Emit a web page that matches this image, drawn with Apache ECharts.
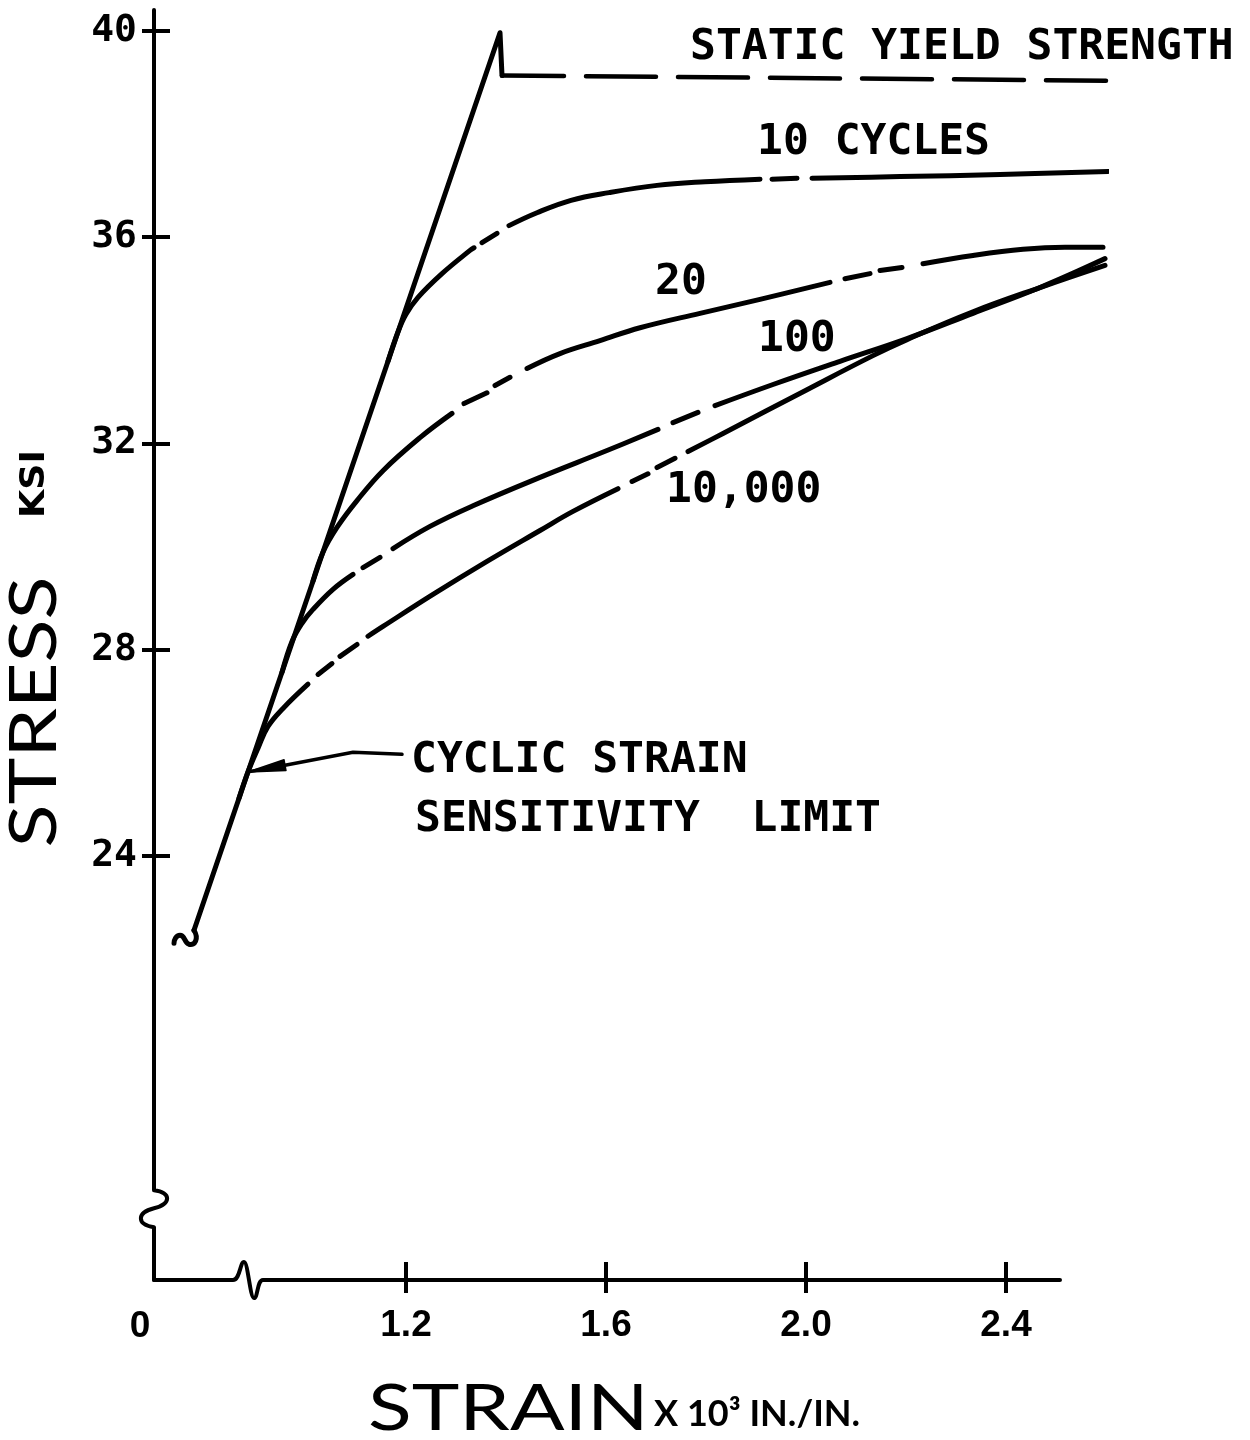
<!DOCTYPE html>
<html>
<head>
<meta charset="utf-8">
<title>Cyclic stress-strain curves</title>
<script src="https://cdn.jsdelivr.net/npm/echarts@6/dist/echarts.min.js"></script>
<style>
  html, body { margin: 0; padding: 0; background: #fff; }
  #chart { width: 1250px; height: 1440px; }
</style>
</head>
<body>
<div id="chart"></div>
<script>
// Stress (ksi) against strain (x 10^-3 in./in.) for a steel under cyclic strain.
const stressTicks = [24, 28, 32, 36, 40];
const strainTicks = [1.2, 1.6, 2.0, 2.4];

// Elastic line up to the static yield point, then the drop to the yield plateau
const elasticLine = [[0.776, 22.56], [1.388, 39.96], [1.392, 39.13]];
const staticYield = [[1.392, 39.13], [2.6, 39.03]];

// Cyclic curves; each inner list is one pen stroke, the breaks between them are gaps.
// Each curve starts on the elastic line so that it leaves it tangentially.
const cycles10 = [
  [[1.164, 33.59], [1.184, 34.16], [1.200, 34.50], [1.224, 34.83], [1.272, 35.29], [1.328, 35.74], [1.336, 35.79]],
  [[1.352, 35.89], [1.382, 36.07]],
  [[1.406, 36.22], [1.462, 36.47], [1.530, 36.71], [1.606, 36.86], [1.702, 37.00], [1.798, 37.07], [1.908, 37.12]],
  [[1.932, 37.12], [1.982, 37.14]],
  [[2.012, 37.14], [2.188, 37.17], [2.388, 37.21], [2.604, 37.27]]
];
const cycles20 = [
  [[1.014, 29.33], [1.034, 29.89], [1.062, 30.37], [1.102, 30.89], [1.154, 31.47], [1.228, 32.11], [1.292, 32.58]],
  [[1.316, 32.77], [1.362, 32.98]],
  [[1.378, 33.12], [1.408, 33.28]],
  [[1.442, 33.45], [1.508, 33.74], [1.588, 33.99], [1.668, 34.24], [1.788, 34.52], [1.908, 34.79], [2.048, 35.12]],
  [[2.078, 35.19], [2.128, 35.29]],
  [[2.148, 35.35], [2.192, 35.41]],
  [[2.234, 35.48], [2.334, 35.64], [2.434, 35.76], [2.518, 35.80], [2.594, 35.80]]
];
const cycles100 = [
  [[0.952, 27.56], [0.972, 28.16], [0.992, 28.51], [1.014, 28.78], [1.054, 29.17], [1.094, 29.46]],
  [[1.114, 29.59], [1.148, 29.79]],
  [[1.174, 29.96], [1.248, 30.39], [1.334, 30.79], [1.468, 31.34], [1.602, 31.86], [1.704, 32.27]],
  [[1.734, 32.40], [1.784, 32.60]],
  [[1.818, 32.73], [1.934, 33.14], [2.068, 33.59], [2.202, 34.03], [2.334, 34.52], [2.468, 35.02], [2.598, 35.58]]
];
const cycles10000 = [
  [[0.866, 25.12], [0.884, 25.63], [0.904, 26.09], [0.924, 26.51], [0.954, 26.86], [1.004, 27.33]],
  [[1.024, 27.52], [1.052, 27.73]],
  [[1.068, 27.87], [1.102, 28.10]],
  [[1.124, 28.26], [1.154, 28.45], [1.254, 29.07], [1.362, 29.71], [1.468, 30.31], [1.534, 30.68], [1.624, 31.12]],
  [[1.652, 31.26], [1.684, 31.41]],
  [[1.702, 31.53], [1.738, 31.71]],
  [[1.764, 31.84], [1.834, 32.19], [2.002, 33.04], [2.134, 33.70], [2.202, 34.01], [2.334, 34.55], [2.468, 35.02], [2.598, 35.45]]
];

// Cyclic strain sensitivity limit, where the 10,000 curve leaves the elastic line,
// and the leader running from it to the note
const sensitivityLimit = [0.884, 25.63];
const limitLeader = [[0.958, 25.76], [1.094, 26.01], [1.192, 25.97]];

const curveNames = ['10 CYCLES', '20', '100', '10,000'];
const yieldNote = 'STATIC YIELD STRENGTH';
const limitNote = ['CYCLIC STRAIN', 'SENSITIVITY  LIMIT'];

// Axis extent and the places where the axes are broken
const X_MIN = 0.696, X_MAX = 2.6, X_AXIS_END = 2.508, X_BREAK = 0.884;
const Y_MIN = 15.78, Y_MAX = 40.4, Y_BREAK = 17.17;

const INK = '#000';

function joinStrokes(strokes) {
  const out = [];
  strokes.forEach((s, i) => {
    if (i) out.push(null);
    out.push(...s);
  });
  return out;
}

// Axis lines with their break marks, the tail mark of the elastic line and the leader arrow
function renderFrame(params, api) {
  const origin = api.coord([X_MIN, Y_MIN]);
  const x0 = origin[0], y0 = origin[1];
  const yTop = api.coord([X_MIN, Y_MAX])[1];
  const xEnd = api.coord([X_AXIS_END, Y_MIN])[0];
  const yb = api.coord([X_MIN, Y_BREAK])[1];
  const xb = api.coord([X_BREAK, Y_MIN])[0];

  const yAxisPath =
    `M${x0} ${yTop} L${x0} ${yb - 18}` +
    ` C${x0 + 18} ${yb - 16} ${x0 + 17} ${yb - 4} ${x0} ${yb}` +
    ` C${x0 - 17} ${yb + 4} ${x0 - 18} ${yb + 16} ${x0} ${yb + 19}` +
    ` L${x0} ${y0}`;
  const xAxisPath =
    `M${x0} ${y0} L${xb - 15} ${y0}` +
    ` C${xb - 8} ${y0} ${xb - 8} ${y0 - 18} ${xb - 4} ${y0 - 18}` +
    ` C${xb} ${y0 - 18} ${xb + 2} ${y0 + 18} ${xb + 6} ${y0 + 18}` +
    ` C${xb + 10} ${y0 + 18} ${xb + 9} ${y0} ${xb + 15} ${y0}` +
    ` L${xEnd} ${y0}`;

  const t = api.coord(elasticLine[0]);
  const tailPath =
    `M${t[0]} ${t[1]} C${t[0] + 5} ${t[1] + 8} ${t[0] + 1} ${t[1] + 16} ${t[0] - 5} ${t[1] + 14}` +
    ` C${t[0] - 10} ${t[1] + 12} ${t[0] - 9} ${t[1] + 5} ${t[0] - 14} ${t[1] + 5}` +
    ` C${t[0] - 18} ${t[1] + 5} ${t[0] - 20} ${t[1] + 10} ${t[0] - 20} ${t[1] + 13}`;

  const tip = api.coord(sensitivityLimit);
  const pts = [tip].concat(limitLeader.map(p => api.coord(p)));
  const base = pts[1];
  const dx = base[0] - tip[0], dy = base[1] - tip[1];
  const len = Math.sqrt(dx * dx + dy * dy);
  const nx = -dy / len * 5.5, ny = dx / len * 5.5;

  const lineStyle = { stroke: INK, lineWidth: 4, fill: null, lineCap: 'round', lineJoin: 'round' };
  return {
    type: 'group',
    children: [
      { type: 'path', shape: { pathData: yAxisPath }, style: lineStyle },
      { type: 'path', shape: { pathData: xAxisPath }, style: lineStyle },
      { type: 'path', shape: { pathData: tailPath }, style: Object.assign({}, lineStyle, { lineWidth: 5 }) },
      { type: 'polyline', shape: { points: pts }, style: Object.assign({}, lineStyle, { lineWidth: 3.5 }) },
      { type: 'polygon', shape: { points: [tip, [base[0] + nx, base[1] + ny], [base[0] - nx, base[1] - ny]] },
        style: { fill: INK, stroke: INK, lineWidth: 1.5, lineJoin: 'round' } }
    ]
  };
}

const chart = echarts.init(document.getElementById('chart'), null, { renderer: 'canvas' });

const curveLine = { color: INK, width: 5, cap: 'round', join: 'round' };
const tickStyle = { color: INK, width: 4 };
const MONO = '"DejaVu Sans Mono", monospace';

function valueAxis(min, max, ticks, extra) {
  return Object.assign({
    type: 'value', min: min, max: max,
    axisLine: { show: false },
    splitLine: { show: false },
    axisTick: { show: true, customValues: ticks, lineStyle: tickStyle },
    axisLabel: { show: false }
  }, extra);
}

function note(text, x, y, font) {
  return { type: 'text', x: x, y: y, silent: true,
    style: { text: text, font: font, fill: INK, align: 'left', verticalAlign: 'middle' } };
}
const noteFont = 'bold 43px ' + MONO;

chart.setOption({
  animation: false,
  backgroundColor: '#fff',
  grid: { left: 154, right: 144, top: 10, bottom: 160 },
  xAxis: [
    valueAxis(X_MIN, X_MAX, strainTicks, {
      position: 'bottom',
      axisTick: { show: true, customValues: strainTicks, length: 13, lineStyle: tickStyle },
      axisLabel: { show: true, customValues: strainTicks, formatter: v => v.toFixed(1), margin: 27,
        color: INK, fontFamily: '"Liberation Sans", Arial, sans-serif', fontWeight: 'bold', fontSize: 37 }
    }),
    valueAxis(X_MIN, X_MAX, strainTicks, {
      position: 'bottom',
      axisTick: { show: true, inside: true, customValues: strainTicks, length: 18, lineStyle: tickStyle }
    })
  ],
  yAxis: [
    valueAxis(Y_MIN, Y_MAX, stressTicks, {
      position: 'left',
      axisTick: { show: true, customValues: stressTicks, length: 12, lineStyle: tickStyle },
      axisLabel: { show: true, customValues: stressTicks, margin: 17, color: INK,
        fontFamily: MONO, fontWeight: 'bold', fontSize: 38 }
    }),
    valueAxis(Y_MIN, Y_MAX, stressTicks, {
      position: 'left',
      axisTick: { show: true, inside: true, customValues: stressTicks, length: 16, lineStyle: tickStyle }
    })
  ],
  series: [
    { type: 'line', name: 'elastic', data: elasticLine, symbol: 'none', lineStyle: curveLine, silent: true },
    { type: 'line', name: 'static yield', data: staticYield, symbol: 'none', silent: true,
      lineStyle: { color: INK, width: 4.5, cap: 'round', type: [70, 22], dashOffset: 8 } },
    ...[cycles10, cycles20, cycles100, cycles10000].map((c, i) => ({
      type: 'line', name: curveNames[i], data: joinStrokes(c), smooth: 0.4,
      symbol: 'none', connectNulls: false, silent: true, lineStyle: curveLine
    })),
    { type: 'custom', name: 'frame', renderItem: renderFrame, data: [[X_MIN, Y_MIN]], silent: true, z: 5 }
  ],
  graphic: [
    note(yieldNote, 690, 48, noteFont),
    note(curveNames[0], 757, 143, noteFont),
    note(curveNames[1], 655, 283, noteFont),
    note(curveNames[2], 758, 340, noteFont),
    note(curveNames[3], 666, 491, noteFont),
    note(limitNote[0], 411, 761, noteFont),
    note(limitNote[1], 415, 820, noteFont),
    { type: 'text', x: 140, y: 1327, silent: true,
      style: { text: '0', font: 'bold 37px "Liberation Sans", Arial, sans-serif', fill: INK, align: 'center', verticalAlign: 'middle' } },
    { type: 'text', x: 368, y: 1410, scaleX: 1.28, silent: true,
      style: { text: 'STRAIN', font: '400 63px Lato, "DejaVu Sans", sans-serif', fill: INK, align: 'left', verticalAlign: 'middle' } },
    { type: 'text', x: 654, y: 1414, silent: true,
      style: { text: 'X 10³ IN./IN.', font: 'bold 36px Lato, "DejaVu Sans", sans-serif', fill: INK, align: 'left', verticalAlign: 'middle' } },
    { type: 'text', x: 35, y: 712, rotation: Math.PI / 2, scaleX: 1.2, silent: true,
      style: { text: 'STRESS', font: '400 66px Lato, "DejaVu Sans", sans-serif', fill: INK, align: 'center', verticalAlign: 'middle' } },
    { type: 'text', x: 35, y: 484, rotation: Math.PI / 2, scaleX: 1.1, silent: true,
      style: { text: 'KSI', font: 'bold 33px "DejaVu Sans", sans-serif', fill: INK, align: 'center', verticalAlign: 'middle' } }
  ]
});
</script>
</body>
</html>
